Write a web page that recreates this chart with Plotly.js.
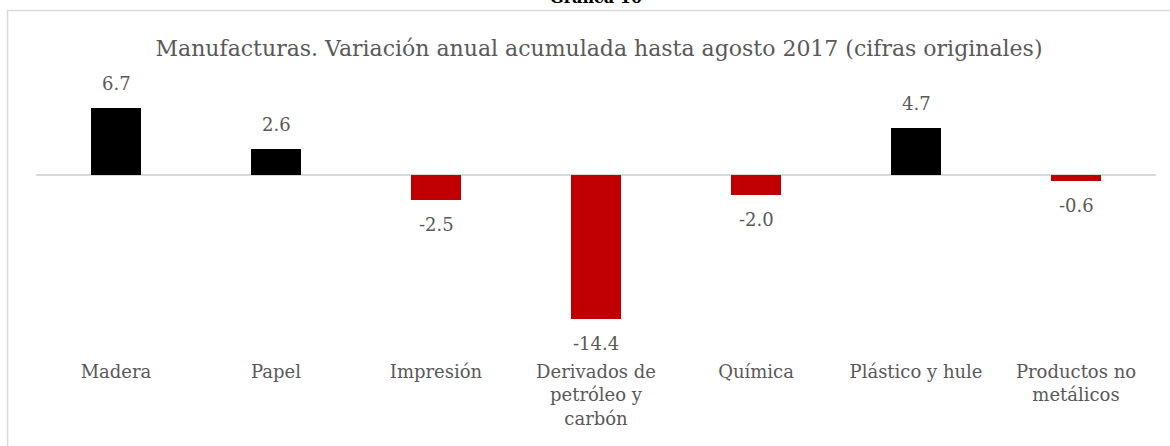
<!DOCTYPE html>
<html>
<head>
<meta charset="utf-8">
<script src="https://cdn.plot.ly/plotly-3.0.1.min.js"></script>
<style>
  html, body { margin: 0; padding: 0; background: #fff; }
  #chart { width: 1170px; height: 446px; }
</style>
</head>
<body>
<div id="chart"></div>
<script>
// categories and values
var categories = ['Madera', 'Papel', 'Impresión', 'Derivados de<br>petróleo y<br>carbón',
  'Química', 'Plástico y hule', 'Productos no<br>metálicos'];
var values = [6.7, 2.6, -2.5, -14.4, -2.0, 4.7, -0.6];

var SERIF = 'Palatino Linotype, Book Antiqua, DejaVu Serif, serif';
var TEXT = '#595959';

var colors = values.map(function (v) { return v < 0 ? '#C00000' : '#000000'; });

var bars = {
  type: 'bar',
  x: categories,
  y: values,
  marker: { color: colors },
  hoverinfo: 'none'
};

// value labels above / below each bar
var labels = values.map(function (v, i) {
  return {
    x: categories[i],
    y: v,
    text: v.toFixed(1),
    showarrow: false,
    yanchor: v < 0 ? 'top' : 'bottom',
    yshift: v < 0 ? -12 : 12,
    font: { family: SERIF, size: 18, color: TEXT }
  };
});

// outer caption, cut off by the top edge like in the source
labels.push({
  xref: 'paper', yref: 'paper',
  x: 0.5, y: 1.3, yanchor: 'middle',
  text: '<b>Gráfica 10</b>',
  showarrow: false,
  font: { family: SERIF, size: 16, color: '#000' }
});

var layout = {
  width: 1170,
  height: 446,
  margin: { l: 36, r: 14, t: 80, b: 91 },
  paper_bgcolor: '#fff',
  plot_bgcolor: '#fff',
  showlegend: false,
  bargap: 0.6875,
  title: {
    text: 'Manufacturas. Variación anual acumulada hasta agosto 2017 (cifras originales)',
    font: { family: SERIF, size: 22, color: TEXT },
    x: 0.512, xanchor: 'center',
    y: 0.892, yanchor: 'middle'
  },
  xaxis: {
    type: 'category',
    showgrid: false,
    showline: false,
    ticks: '',
    ticklabelstandoff: 4,
    tickfont: { family: SERIF, size: 18, color: TEXT },
    fixedrange: true
  },
  yaxis: {
    range: [-18, 9.5],
    showgrid: false,
    showticklabels: false,
    zeroline: true,
    zerolinecolor: '#d9d9d9',
    zerolinewidth: 1.5,
    fixedrange: true
  },
  annotations: labels,
  shapes: [{
    type: 'rect', xref: 'paper', yref: 'paper',
    x0: -0.0254, x1: 1.3, y0: -0.5, y1: 1.2527,
    line: { color: '#d9d9d9', width: 1.5 },
    fillcolor: 'rgba(0,0,0,0)'
  }]
};

Plotly.newPlot('chart', [bars], layout, { displayModeBar: false, staticPlot: true });
</script>
</body>
</html>
